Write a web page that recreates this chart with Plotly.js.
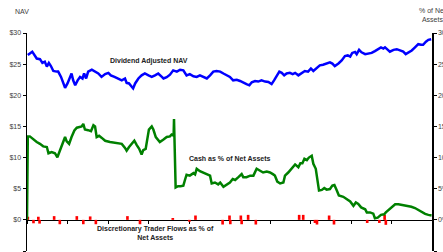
<!DOCTYPE html>
<html>
<head>
<meta charset="utf-8">
<script src="https://cdn.plot.ly/plotly-3.0.1.min.js"></script>
<style>html,body{margin:0;padding:0;background:#fff;}#chart{width:443px;height:252px;}</style>
</head>
<body>
<div id="chart"></div>
<script>
// Time axis in years from start (0..10)
const navX = [0.02,0.13,0.24,0.32,0.38,0.44,0.49,0.54,0.59,0.65,0.73,0.77,0.84,0.90,0.94,1.00,1.06,1.10,1.14,1.19,1.25,1.31,1.37,1.41,1.46,1.51,1.60,1.68,1.76,1.84,1.93,2.01,2.07,2.16,2.24,2.34,2.42,2.46,2.52,2.57,2.62,2.67,2.75,2.83,2.91,3.00,3.08,3.16,3.24,3.33,3.37,3.45,3.53,3.61,3.70,3.78,3.86,3.94,4.02,4.11,4.19,4.27,4.35,4.44,4.52,4.60,4.68,4.77,4.85,4.93,5.01,5.09,5.18,5.26,5.34,5.42,5.49,5.55,5.63,5.71,5.79,5.88,5.96,6.04,6.10,6.17,6.23,6.29,6.35,6.41,6.49,6.56,6.62,6.70,6.78,6.86,6.94,7.01,7.07,7.15,7.23,7.31,7.40,7.48,7.54,7.60,7.69,7.77,7.85,7.92,7.98,8.03,8.10,8.14,8.20,8.26,8.35,8.43,8.51,8.59,8.68,8.74,8.80,8.84,8.91,8.96,9.05,9.13,9.21,9.29,9.35,9.41,9.50,9.58,9.66,9.73,9.78,9.85,9.91,9.98];
const navValues = [26.45,27.0,25.9,25.8,25.2,25.4,24.6,25.2,24.7,23.9,23.8,23.8,22.95,21.9,21.2,21.9,22.7,23.5,22.4,21.6,22.4,22.95,22.7,23.5,22.7,23.8,24.1,23.8,23.5,22.95,23.4,23.6,23.2,22.95,22.7,22.4,22.7,22.0,21.9,21.45,21.1,21.9,22.7,23.2,23.5,23.2,22.95,23.2,23.5,22.95,22.7,22.9,23.3,24.0,23.8,24.1,24.0,23.2,23.4,23.05,22.95,23.2,22.95,22.7,23.2,23.8,23.9,23.8,23.5,23.2,22.95,22.4,22.5,22.3,22.0,21.8,21.6,22.1,22.3,22.2,22.4,22.2,22.15,21.8,22.4,23.05,23.8,23.6,23.2,23.5,23.6,23.4,23.6,23.2,23.6,23.9,23.8,24.3,23.9,24.3,24.8,24.9,25.1,25.3,25.1,24.7,25.1,25.6,26.3,26.4,26.2,26.8,26.95,26.6,27.3,26.9,26.6,26.7,26.8,27.1,27.5,27.7,27.5,27.7,27.3,27.0,27.3,27.4,27.2,27.0,26.6,26.8,27.2,27.7,28.2,28.1,28.1,28.6,28.9,29.0];

const cashX = [0.00,0.02,0.07,0.16,0.24,0.32,0.40,0.49,0.53,0.61,0.69,0.75,0.79,0.84,0.90,0.94,0.98,1.04,1.10,1.17,1.23,1.28,1.35,1.39,1.43,1.51,1.58,1.64,1.68,1.72,1.78,1.84,1.93,2.05,2.16,2.25,2.34,2.42,2.46,2.52,2.59,2.65,2.71,2.77,2.83,2.87,2.93,2.98,3.01,3.08,3.12,3.18,3.24,3.28,3.37,3.45,3.53,3.57,3.62,3.63,3.67,3.73,3.79,3.86,3.90,3.94,4.02,4.11,4.15,4.19,4.27,4.35,4.44,4.52,4.56,4.64,4.72,4.77,4.85,4.93,5.01,5.08,5.14,5.22,5.30,5.34,5.42,5.51,5.59,5.67,5.75,5.83,5.92,6.00,6.08,6.12,6.18,6.25,6.33,6.37,6.45,6.53,6.62,6.70,6.75,6.80,6.85,6.91,6.96,7.03,7.07,7.13,7.18,7.21,7.28,7.34,7.40,7.48,7.54,7.59,7.65,7.70,7.81,7.89,7.98,8.06,8.12,8.18,8.25,8.35,8.39,8.47,8.55,8.59,8.66,8.74,8.82,8.86,8.92,9.00,9.09,9.17,9.25,9.33,9.41,9.49,9.58,9.66,9.74,9.83,9.91,9.99];
const cashValues = [0,13.4,13.4,12.85,12.5,12.2,11.8,11.7,10.7,10.9,10.7,10.05,10.8,11.4,12.7,13.3,12.6,12.2,13.3,14.35,14.8,14.9,15.0,15.4,14.5,14.4,14.25,15.2,15.0,13.3,13.5,13.2,12.7,12.5,12.4,12.3,12.2,11.55,11.1,11.7,12.2,12.7,12.0,11.4,10.5,11.2,11.4,13.0,14.5,15.0,14.5,13.3,12.85,12.5,12.9,13.3,13.4,13.7,13.5,16.2,5.2,5.4,5.4,5.5,6.4,7.25,7.1,7.5,7.3,8.2,7.8,7.6,7.3,7.1,5.85,6.0,5.7,6.0,5.3,5.7,6.0,6.55,6.4,6.85,7.35,6.85,6.85,7.1,7.1,8.2,7.9,7.6,7.75,7.6,7.3,7.1,6.15,5.85,6.0,7.1,7.6,8.3,8.9,8.45,9.1,9.1,9.8,9.6,10.0,10.3,9.0,8.2,5.75,4.7,4.8,5.1,4.85,4.95,5.5,5.6,4.7,3.9,3.7,3.3,2.95,2.25,2.8,2.55,2.0,1.7,1.2,1.2,1.0,0.25,0.35,0.8,0.9,1.2,1.5,2.0,2.5,2.5,2.4,2.25,2.25,2.1,1.9,1.6,1.2,0.95,0.8,0.7];

const flowX = [0.02,0.16,0.28,0.31,0.67,0.81,1.23,1.39,1.56,1.70,2.48,2.79,3.60,4.01,4.16,4.83,5.00,5.02,5.28,5.30,5.46,5.65,6.72,6.82,7.11,7.16,7.46,7.58,8.40,8.70,8.83,8.86];
const flowValues = [0.5,-0.55,0.5,-0.6,0.6,-0.7,0.6,-0.7,0.55,-0.7,0.6,-0.7,0.3,-0.3,0.7,-0.75,0.7,-0.7,0.7,-0.7,0.8,-0.75,0.8,0.8,-0.5,-0.75,0.7,-0.75,-0.5,-0.5,0.8,-0.8];

const tickVals = [-5,0,5,10,15,20,25,30];
const leftTickText = ['-$5','$0','$5','$10','$15','$20','$25','$30'];
const rightTickText = ['-5%','0%','5%','10%','15%','20%','25%','30%'];

const FONT = 'Liberation Sans, Arial, sans-serif';
const tickFont = {family: FONT, size: 7, color: '#404040'};
const annFont = {family: FONT, size: 7, color: '#222'};

const traces = [
  {type:'bar', x: flowX, y: flowValues, yaxis:'y2', width:0.065,
   marker:{color:'#ff0000', line:{width:0}}, hoverinfo:'skip'},
  {type:'scatter', mode:'lines', x: cashX, y: cashValues, yaxis:'y2',
   line:{color:'#008000', width:2.5}, hoverinfo:'skip'},
  {type:'scatter', mode:'lines', x: navX, y: navValues, yaxis:'y',
   line:{color:'#0000ff', width:2.5}, hoverinfo:'skip'}
];

const layout = {
  width: 443, height: 252,
  margin: {l:27, r:11, t:33, b:1},
  paper_bgcolor:'#fff', plot_bgcolor:'#fff',
  showlegend:false,
  xaxis: {range:[0,10], anchor:'free', position:1/7, showline:true, linecolor:'#000', linewidth:1.2,
          ticks:'outside', ticklen:3, tickcolor:'#000', tickwidth:1, tick0:0, dtick:1,
          showticklabels:false, showgrid:false, zeroline:false, fixedrange:true, layer:'below traces'},
  yaxis: {range:[-5,30], tickvals: tickVals, ticktext: leftTickText, showline:true, linecolor:'#000', linewidth:1.5,
          ticks:'outside', ticklen:3, tickcolor:'#000', tickfont: tickFont, showgrid:false, zeroline:false},
  yaxis2: {range:[-5,30], overlaying:'y', side:'right', tickvals: tickVals, ticktext: rightTickText, showline:true,
           linecolor:'#000', linewidth:1.5, ticks:'outside', ticklen:3, tickcolor:'#000', tickfont: tickFont,
           showgrid:false, zeroline:false},
  annotations: [
    {xref:'paper', yref:'paper', x:-0.012, y:1.10, yanchor:'middle', text:'NAV', showarrow:false, font:tickFont, xanchor:'center'},
    {xref:'paper', yref:'paper', x:1.0, y:1.13, text:'% of Net<br>Assets', showarrow:false, font:tickFont, xanchor:'center', align:'center'},
    {xref:'x', yref:'y', x:3.0, y:25.5, text:'<b>Dividend Adjusted NAV</b>', showarrow:false, font:annFont},
    {xref:'x', yref:'y', x:5.0, y:9.9, text:'<b>Cash as % of Net Assets</b>', showarrow:false, font:annFont},
    {xref:'x', yref:'y', x:3.18, y:-2.1, text:'<b>Discretionary Trader Flows as % of<br>Net Assets</b>', showarrow:false, font:annFont, align:'center'}
  ]
};

Plotly.newPlot('chart', traces, layout, {displayModeBar:false, staticPlot:true});
</script>
</body>
</html>
